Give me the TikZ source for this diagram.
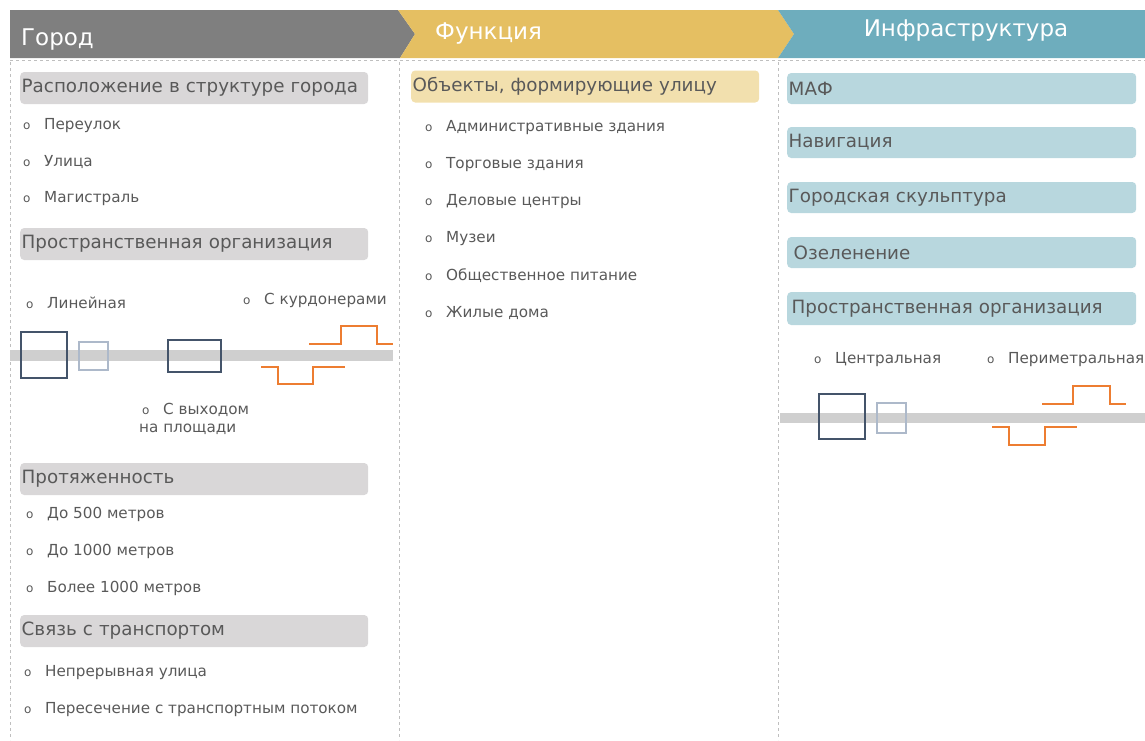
\documentclass[tikz,border=0pt]{standalone}
\usepackage{fontspec}
\setmainfont{DejaVu Sans}
\usetikzlibrary{positioning}

\definecolor{hdgray}{HTML}{7F7F7F}
\definecolor{hdyellow}{HTML}{E5BF62}
\definecolor{hdteal}{HTML}{6EADBD}
\definecolor{boxgray}{HTML}{D9D7D8}
\definecolor{boxyellow}{HTML}{F2E0AE}
\definecolor{boxteal}{HTML}{B8D7DE}
\definecolor{txtgray}{HTML}{595959}
\definecolor{darkbldg}{HTML}{44546A}
\definecolor{lightbldg}{HTML}{ADB9CA}
\definecolor{kurdorange}{HTML}{ED7D31}
\definecolor{roadgray}{HTML}{CFCFCF}

\newcommand{\bul}{\makebox[21pt][l]{\fontsize{12}{13}\selectfont o}}

\begin{document}
\begin{tikzpicture}[x=1pt,y=-1pt,
    hdr/.style={anchor=west,text=white,inner sep=0pt,font=\fontsize{23}{26}\selectfont},
    catbox/.style={anchor=west,rounded corners=4pt,minimum height=32pt,inner xsep=1.5pt,
      text width=345pt,align=left,text=txtgray,font=\fontsize{18.3}{21}\selectfont},
    itm/.style={anchor=west,inner sep=0pt,text=txtgray,font=\fontsize{15.2}{18}\selectfont},
    sep/.style={gray!50,dashed,line width=0.6pt},
    road/.style={fill=roadgray},
    bldg/.style={draw=darkbldg,line width=1.8pt},
    bldglt/.style={draw=lightbldg,line width=1.6pt},
    kurd/.style={draw=kurdorange,line width=1.3pt}]
  \useasboundingbox (0,0) rectangle (1145,740);

  % header arrows
  \fill[hdgray] (10,10) -- (398,10) -- (415,34) -- (400,58) -- (10,58) -- cycle;
  \fill[hdyellow] (398,10) -- (778,10) -- (794,34) -- (778,58) -- (400,58) -- (415,34) -- cycle;
  \fill[hdteal] (778,10) -- (1145,10) -- (1145,58) -- (778,58) -- (794,34) -- cycle;
  \node[hdr] (city) at (21,40) {Город};
  \node[hdr] (func) at (435,34) {Функция};
  \node[hdr,anchor=center] (infra) at (966,31) {Инфраструктура};

  % column separators
  \draw[sep] (10,60) -- (1145,60);
  \foreach \x in {10,399,778} {
    \draw[sep] (\x,62) -- (\x,740);
  }

  % Город
  \node[catbox,fill=boxgray] (loc) at (20,88) {Расположение в структуре города};
  \foreach \t [count=\i] in {Переулок,Улица,Магистраль} {
    \node[itm] (loc\i) at (23,{89.5+36.5*\i}) {\bul\t};
  }
  \node[catbox,fill=boxgray] (org) at (20,244) {Пространственная организация};
  \node[itm] (lin) at (26,303) {\bul Линейная};
  \node[itm] (kur) at (243,300) {\bul С курдонерами};
  \node[itm,align=left] (sq) at (139,419) {\hspace{3pt}\bul С выходом\\на площади};
  \fill[road] (10,350) rectangle (393,361);
  \draw[bldg] (21,332) rectangle (67,378);
  \draw[bldglt] (79,342) rectangle (108,370);
  \draw[bldg] (168,340) rectangle (221,372);
  \draw[kurd] (309,344) -- (341,344) -- (341,326) -- (377,326) -- (377,344) -- (393,344);
  \draw[kurd] (261,367) -- (278,367) -- (278,384) -- (313,384) -- (313,367) -- (345,367);
  \node[catbox,fill=boxgray] (len) at (20,479) {Протяженность};
  \foreach \t [count=\i] in {До 500 метров,До 1000 метров,Более 1000 метров} {
    \node[itm] (len\i) at (26,{477+37*\i}) {\bul\t};
  }
  \node[catbox,fill=boxgray] (trn) at (20,631) {Связь с транспортом};
  \foreach \t [count=\i] in {Непрерывная улица,Пересечение с транспортным потоком} {
    \node[itm] (trn\i) at (24,{636+37*\i}) {\bul\t};
  }

  % Функция
  \node[catbox,fill=boxyellow] (obj) at (411,86.5) {Объекты, формирующие улицу};
  \foreach \t [count=\i] in {Административные здания,Торговые здания,Деловые центры,Музеи,
      Общественное питание,Жилые дома} {
    \node[itm] (obj\i) at (425,{91+37*\i}) {\bul\t};
  }

  % Инфраструктура
  \node[catbox,fill=boxteal,minimum height=31pt,text width=346pt] (maf) at (787,88.5) {МАФ};
  \node[catbox,fill=boxteal,minimum height=31pt,text width=346pt] (nav) at (787,142.5) {Навигация};
  \node[catbox,fill=boxteal,minimum height=31pt,text width=346pt] (sculp) at (787,197.5) {Городская скульптура};
  \node[catbox,fill=boxteal,minimum height=31pt,text width=346pt] (green) at (787,252.5) {\hspace{5pt}Озеленение};
  \node[catbox,fill=boxteal,minimum height=33pt,text width=346pt] (sorg) at (787,308.5) {\hspace{3pt}Пространственная организация};
  \node[itm] (cen) at (814,360) {\bul Центральная};
  \node[itm] (per) at (987,360) {\bul Периметральная};
  \fill[road] (780,413) rectangle (1145,423);
  \draw[bldg] (819,394) rectangle (865,439);
  \draw[bldglt] (877,403) rectangle (906,433);
  \draw[kurd] (1042,404) -- (1073,404) -- (1073,386) -- (1110,386) -- (1110,404) -- (1126,404);
  \draw[kurd] (992,427) -- (1009,427) -- (1009,445) -- (1045,445) -- (1045,427) -- (1077,427);
\end{tikzpicture}
\end{document}
